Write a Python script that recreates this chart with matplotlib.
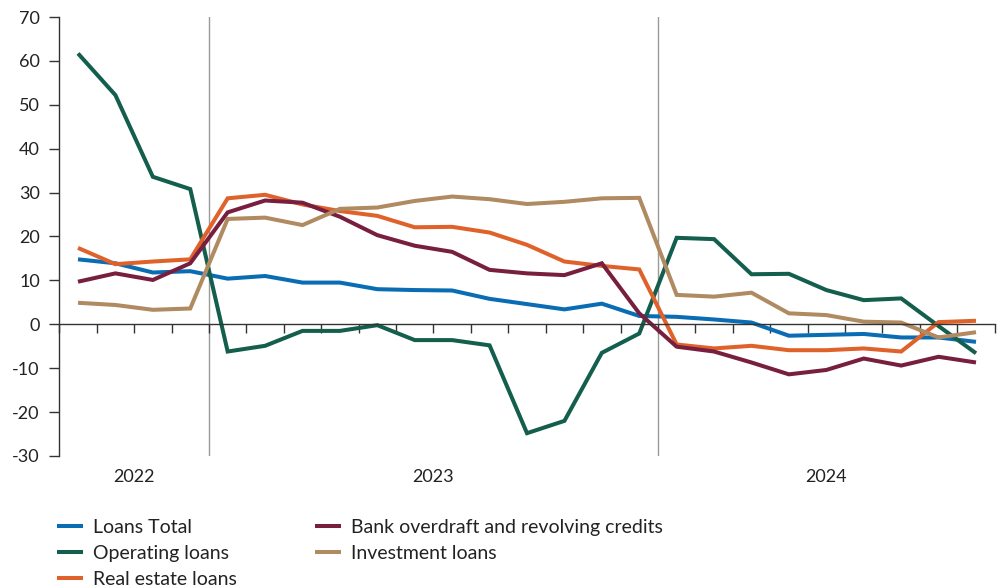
#!/usr/bin/env python3
"""
Lending growth by loan type, monthly, 2022-2024 (per cent).
"""

import numpy as np
import matplotlib
matplotlib.use("Agg")
import matplotlib.pyplot as plt
from matplotlib.transforms import blended_transform_factory

# Monthly observations, Sep 2022 .. Sep 2024 (25 months)
loans_total = [14.8, 13.9, 11.8, 12.1, 10.4, 11.0, 9.5, 9.5, 8.0, 7.8, 7.7, 5.8, 4.6,
               3.4, 4.7, 1.9, 1.7, 1.1, 0.4, -2.6, -2.4, -2.2, -3.0, -3.0, -4.0]
operating_loans = [61.7, 52.2, 33.6, 30.8, -6.2, -4.9, -1.5, -1.5, -0.2, -3.6, -3.6, -4.8, -24.8,
                   -22.0, -6.5, -2.1, 19.7, 19.4, 11.4, 11.5, 7.8, 5.5, 5.9, -0.4, -6.6]
real_estate_loans = [17.4, 13.7, 14.3, 14.8, 28.7, 29.5, 27.3, 25.8, 24.7, 22.1, 22.2, 20.9, 18.1,
                     14.3, 13.3, 12.5, -4.6, -5.5, -4.9, -5.9, -5.9, -5.5, -6.2, 0.5, 0.8]
bank_overdraft = [9.7, 11.6, 10.1, 13.9, 25.5, 28.2, 27.7, 24.5, 20.3, 17.9, 16.5, 12.4, 11.6,
                  11.2, 13.9, 2.5, -5.1, -6.2, -8.7, -11.4, -10.4, -7.8, -9.4, -7.4, -8.7]
investment_loans = [4.9, 4.4, 3.3, 3.6, 24.0, 24.3, 22.6, 26.3, 26.6, 28.1, 29.1, 28.5, 27.4,
                    27.9, 28.7, 28.8, 6.7, 6.3, 7.2, 2.5, 2.1, 0.6, 0.4, -3.0, -1.8]

years = ["2022", "2023", "2024"]
months_per_year = [4, 12, 9]   # months shown within each year

y_ticks = [-30, -20, -10, 0, 10, 20, 30, 40, 50, 60, 70]

series = [
    ("Loans Total", loans_total, "#0a6db3"),
    ("Operating loans", operating_loans, "#135e4d"),
    ("Real estate loans", real_estate_loans, "#e0622b"),
    ("Bank overdraft and revolving credits", bank_overdraft, "#781f40"),
    ("Investment loans", investment_loans, "#b08a60"),
]

plt.rcParams["font.family"] = ["Lato", "DejaVu Sans"]
plt.rcParams["axes.unicode_minus"] = False
text_color = "#222222"
axis_color = "#333333"

fig = plt.figure(figsize=(10.01, 5.88), dpi=100)
ax = fig.add_axes([59.3 / 1001, 1 - 456 / 588, (994.7 - 59.3) / 1001, 439 / 588])

n = len(loans_total)
x = np.arange(n) + 0.5
for label, values, color in series:
    ax.plot(x, values, color=color, linewidth=2.9, label=label,
            solid_joinstyle="miter", solid_capstyle="butt")

# year separators
bounds = np.cumsum(months_per_year)
for b in bounds[:-1]:
    ax.axvline(b, color="#9a9a9a", linewidth=1.0, zorder=0)

ax.set_xlim(0, n)
ax.set_ylim(-30, 70)

ax.spines["top"].set_visible(False)
ax.spines["right"].set_visible(False)
ax.spines["left"].set_color(axis_color)
ax.spines["bottom"].set_color(axis_color)
ax.spines["bottom"].set_position(("data", 0))
ax.spines["left"].set_linewidth(1.0)
ax.spines["bottom"].set_linewidth(1.0)

ax.set_yticks(y_ticks)
ax.set_yticklabels([str(v) for v in y_ticks])
ax.tick_params(axis="y", direction="out", length=7, width=1.0, color=axis_color,
               labelsize=13, labelcolor=text_color, pad=7)
ax.set_xticks(np.arange(n + 1))
ax.set_xticklabels([])
ax.tick_params(axis="x", direction="out", length=6.5, width=1.0, color=axis_color)

# year labels centred below each block
trans = blended_transform_factory(ax.transData, ax.transAxes)
starts = np.concatenate([[0], bounds[:-1]])
for yr, s, e in zip(years, starts, bounds):
    ax.text((s + e) / 2, -0.047, yr, transform=trans, ha="center", va="center",
            fontsize=13, color=text_color)

handles, labels = ax.get_legend_handles_labels()
leg = fig.legend(handles, labels, loc="upper left", bbox_to_anchor=(57 / 1001, 1 - 519 / 588),
                 ncol=2, frameon=False, fontsize=14, handlelength=1.34, handletextpad=0.52,
                 columnspacing=4.0, labelspacing=0.46, borderaxespad=0, borderpad=0)
for t in leg.get_texts():
    t.set_color(text_color)

plt.savefig("out.png", dpi=100)
